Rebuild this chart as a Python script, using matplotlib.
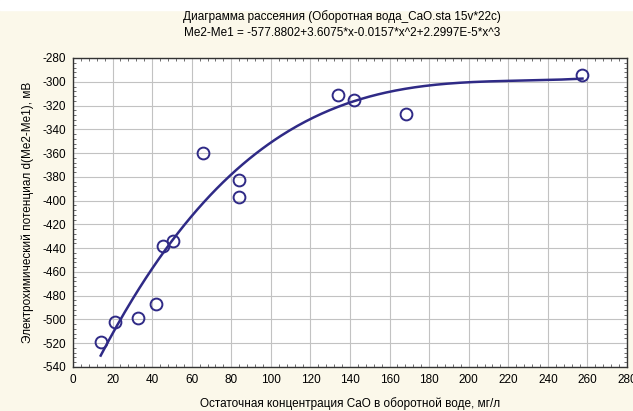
import numpy as np
import matplotlib.pyplot as plt
from matplotlib.patches import Rectangle
from matplotlib.ticker import MultipleLocator

plt.rcParams['font.family'] = ['Liberation Sans', 'DejaVu Sans']
plt.rcParams['axes.unicode_minus'] = False

# точки (CaO, мг/л ; потенциал, мВ)
cao = [14, 21, 33, 42, 45.5, 50.5, 65.5, 84, 84, 134, 142, 168.5, 257.5]
pot = [-519, -502, -499, -487, -438, -434, -360, -383, -397, -311, -315, -327, -294]

# коэффициенты из заголовка
coef = [-577.8802, 3.6075, -0.0157, 2.2997e-5]

title1 = "Диаграмма рассеяния (Оборотная вода_CaO.sta 15v*22c)"
title2 = "Me2-Me1 = -577.8802+3.6075*x-0.0157*x^2+2.2997E-5*x^3"
xlab = "Остаточная концентрация CaO в оборотной воде, мг/л"
ylab = "Электрохимический потенциал d(Me2-Me1), мВ"

col = '#2f2a86'
bg = '#fbf8ea'

fig = plt.figure(figsize=(6.33, 4.11), dpi=100, facecolor=bg)
fig.patches.append(Rectangle((0, 1 - 10/411), 1, 10/411, transform=fig.transFigure,
                             color='white', zorder=0))
ax = fig.add_axes([73/633, 1 - 367/411, 554/633, 309/411])
ax.set_facecolor('white')

xs = np.linspace(min(cao), max(cao), 300)
ys = coef[0] + coef[1]*xs + coef[2]*xs**2 + coef[3]*xs**3
ax.plot(xs, ys, color=col, lw=1.8, zorder=3)
ax.plot(cao, pot, 'o', mfc='none', mec=col, mew=1.4, ms=8.5, zorder=4)

ax.set_xlim(0, 280)
ax.set_ylim(-540, -280)
ax.xaxis.set_major_locator(MultipleLocator(20))
ax.yaxis.set_major_locator(MultipleLocator(20))
ax.xaxis.set_minor_locator(MultipleLocator(4))
ax.yaxis.set_minor_locator(MultipleLocator(4))
ax.tick_params(which='both', direction='in', top=True, right=True, labelsize=8.5, length=0, pad=5)
ax.tick_params(which='minor', length=2, color='#555555')
ax.grid(True, which='major', color='#c2c2c2', lw=0.8)
for s in ax.spines.values():
    s.set_color('#333333')
    s.set_linewidth(1)

fig.text(0.54, 1 - 17/411, title1, ha='center', va='center', fontsize=8.5)
fig.text(0.54, 1 - 33/411, title2, ha='center', va='center', fontsize=8.5)
ax.set_xlabel(xlab, fontsize=8.5, labelpad=8)
ax.set_ylabel(ylab, fontsize=8.5, labelpad=6)

fig.savefig('out.png', dpi=100, facecolor=bg)
